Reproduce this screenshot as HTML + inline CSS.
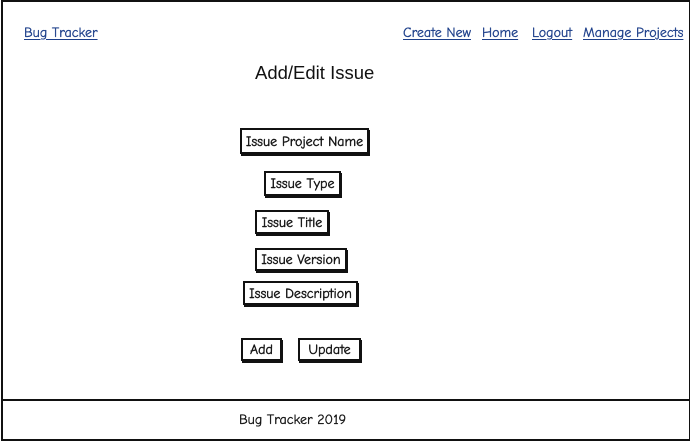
<!DOCTYPE html>
<html><head><meta charset="utf-8"><style>
body{margin:0;width:690px;height:442px;background:#fff;position:relative;overflow:hidden;font-family:"Comic Neue","Liberation Sans",sans-serif;}
.a{position:absolute;}
.l{position:absolute;color:#1d3f8a;font-size:14px;text-decoration:underline;text-underline-offset:2px;white-space:nowrap;top:24px;-webkit-text-stroke:0.3px #1d3f8a;}
.b{position:absolute;border:2px solid #111;box-shadow:1px 2px 0 #111;font-size:14px;display:flex;align-items:center;justify-content:center;white-space:nowrap;color:#111;box-sizing:border-box;-webkit-text-stroke:0.4px #111;}
</style></head><body>
<div class="a" style="left:1px;top:0;width:686px;height:397px;border:2px solid #111;border-right-width:3px;"></div>
<div class="a" style="left:1px;top:399px;width:686px;height:38px;border:2px solid #111;border-right-width:3px;"></div>
<div class="l" style="left:24px;">Bug Tracker</div>
<div class="l" style="left:403px;">Create New</div>
<div class="l" style="left:482px;">Home</div>
<div class="l" style="left:532px;">Logout</div>
<div class="l" style="left:583px;">Manage Projects</div>
<div class="a" style="left:255px;top:62px;font-size:18.5px;color:#111;font-family:'Liberation Sans',sans-serif;">Add/Edit Issue</div>
<div class="b" style="left:240px;top:128px;width:129px;height:26px;">Issue Project Name</div>
<div class="b" style="left:264px;top:171px;width:77px;height:25px;">Issue Type</div>
<div class="b" style="left:255px;top:210px;width:74px;height:24px;">Issue Title</div>
<div class="b" style="left:255px;top:248px;width:92px;height:23px;">Issue Version</div>
<div class="b" style="left:243px;top:281px;width:115px;height:24px;">Issue Description</div>
<div class="b" style="left:241px;top:338px;width:41px;height:23px;">Add</div>
<div class="b" style="left:298px;top:338px;width:63px;height:23px;">Update</div>
<div class="a" style="left:239px;top:411px;font-size:14px;color:#111;-webkit-text-stroke:0.3px #111;">Bug Tracker 2019</div>
</body></html>
